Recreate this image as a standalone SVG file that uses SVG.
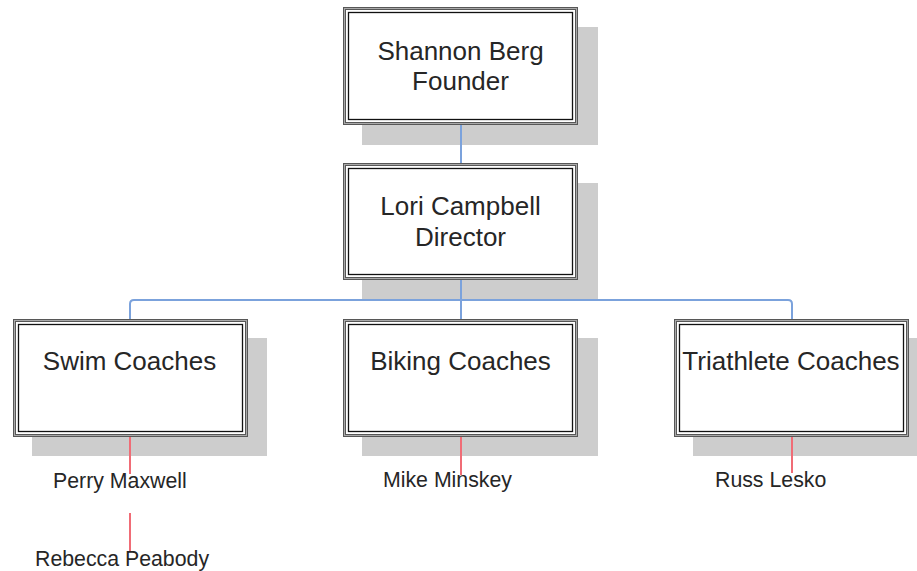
<svg xmlns="http://www.w3.org/2000/svg" width="917" height="571" viewBox="0 0 917 571">
<style>
.bg{fill:#ffffff}
.sh{fill:#cdcdcd}
.ob{fill:#ffffff;stroke:#575757;stroke-width:3}
.mid{fill:none;stroke:#a9a9a9;stroke-width:1}
.ib{fill:none;stroke:#111111;stroke-width:1.3}
.t{font-family:"Liberation Sans",Arial,sans-serif;font-size:26px;fill:#262626;text-anchor:middle}
.s{font-family:"Liberation Sans",Arial,sans-serif;font-size:21.3px;fill:#262626}
.blue{fill:none;stroke:#7ba2dc;stroke-width:2}
.red{fill:none;stroke:#f06c76;stroke-width:2}
</style>
<rect class="bg" x="0" y="0" width="917" height="571"/>
<g id="shadows">
<rect class="sh" x="362" y="27" width="236" height="118"/>
<rect class="sh" x="362" y="183" width="236" height="117"/>
<rect class="sh" x="32" y="338" width="235" height="118"/>
<rect class="sh" x="362" y="338" width="236" height="118"/>
<rect class="sh" x="693" y="338" width="224" height="118"/>
</g>
<g id="connectors">
<path class="blue" d="M461 125 V163"/>
<path class="blue" d="M461 280 V319"/>
<path class="blue" d="M130 319 V304 Q130 300 134 300 H788 Q792 300 792 304 V319"/>
<path class="red" d="M130 437 V474"/>
<path class="red" d="M130 513 V552"/>
<path class="red" d="M461 437 V475"/>
<path class="red" d="M792 437 V473"/>
</g>
<g id="founder">
<rect class="ob" x="344.5" y="8.5" width="232" height="115"/>
<rect class="mid" x="344.5" y="8.5" width="232" height="115"/>
<rect class="ib" x="348.5" y="12.5" width="224" height="107"/>
<text class="t" x="460.5" y="60">Shannon Berg</text>
<text class="t" x="460.5" y="90">Founder</text>
</g>
<g id="director">
<rect class="ob" x="344.5" y="164.5" width="232" height="114"/>
<rect class="mid" x="344.5" y="164.5" width="232" height="114"/>
<rect class="ib" x="348.5" y="168.5" width="224" height="106"/>
<text class="t" x="460.5" y="215">Lori Campbell</text>
<text class="t" x="460.5" y="246">Director</text>
</g>
<g id="swim">
<rect class="ob" x="14.5" y="320.5" width="232" height="115"/>
<rect class="mid" x="14.5" y="320.5" width="232" height="115"/>
<rect class="ib" x="18.5" y="324.5" width="224" height="107"/>
<text class="t" x="129.5" y="370">Swim Coaches</text>
</g>
<g id="biking">
<rect class="ob" x="344.5" y="320.5" width="232" height="115"/>
<rect class="mid" x="344.5" y="320.5" width="232" height="115"/>
<rect class="ib" x="348.5" y="324.5" width="224" height="107"/>
<text class="t" x="460.5" y="370">Biking Coaches</text>
</g>
<g id="triathlete">
<rect class="ob" x="675.5" y="320.5" width="232" height="115"/>
<rect class="mid" x="675.5" y="320.5" width="232" height="115"/>
<rect class="ib" x="679.5" y="324.5" width="224" height="107"/>
<text class="t" x="791" y="370">Triathlete Coaches</text>
</g>
<g id="staff">
<text class="s" x="53" y="488">Perry Maxwell</text>
<text class="s" x="35" y="566">Rebecca Peabody</text>
<text class="s" x="383" y="487">Mike Minskey</text>
<text class="s" x="715" y="487">Russ Lesko</text>
</g>
</svg>
